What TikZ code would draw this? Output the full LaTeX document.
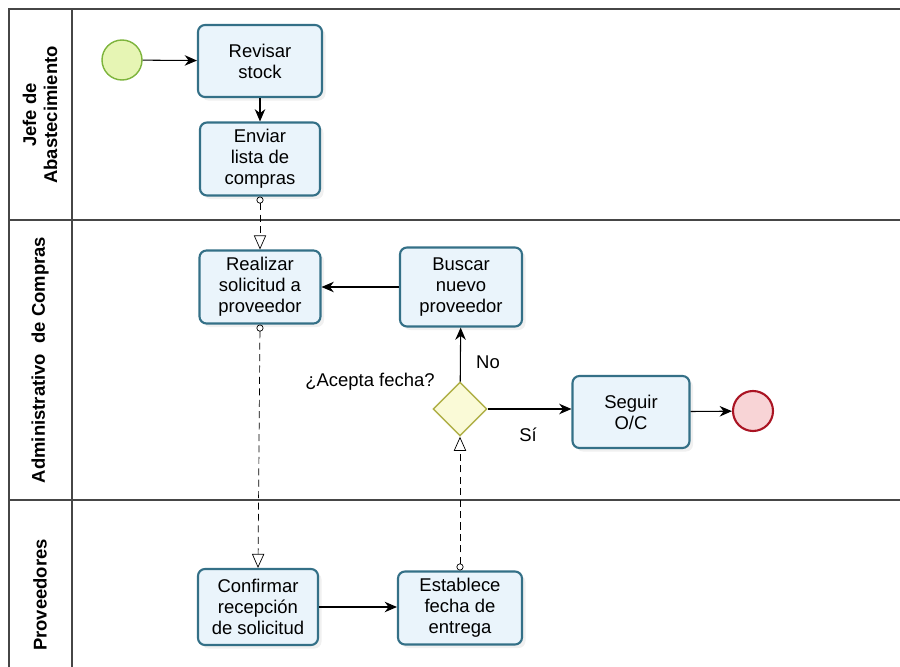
\documentclass[tikz,border=0pt]{standalone}
\usepackage{fontspec}
\setmainfont{Liberation Sans}
\usepackage{tikz}
\usetikzlibrary{arrows.meta}
\usetikzlibrary{shapes.geometric}
\usetikzlibrary{shadows}
\definecolor{taskline}{RGB}{52, 112, 135}
\definecolor{taskfill}{RGB}{234, 244, 251}
\definecolor{startline}{RGB}{125, 180, 60}
\definecolor{startfill}{RGB}{230, 245, 180}
\definecolor{endline}{RGB}{170, 20, 35}
\definecolor{endfill}{RGB}{248, 212, 214}
\definecolor{gateline}{RGB}{175, 175, 70}
\definecolor{gatefill}{RGB}{250, 250, 215}
\definecolor{laneline}{RGB}{70, 70, 70}

\tikzset{
    task/.style    = {draw=taskline, fill=taskfill, very thick, rounded corners=4pt, align=center,
                      inner sep=1pt, font=\fontsize{10.5}{12}\selectfont,
                      drop shadow={opacity=0.12, shadow xshift=2pt, shadow yshift=-2pt}},
    startev/.style = {circle, draw=startline, fill=startfill, thick, minimum size=0.8cm},
    endev/.style   = {circle, draw=endline, fill=endfill, very thick, minimum size=0.8cm},
    gateway/.style = {diamond, draw=gateline, fill=gatefill, thick, minimum width=1.08cm,
                      minimum height=1.08cm, inner sep=0pt},
    seqflow/.style = {-{Stealth[length=7pt, width=6pt]}, semithick},
    msgflow/.style = {dash pattern=on 4pt off 2.5pt, thin,
                      {Circle[open, length=4pt]}-{Triangle[open, length=8pt, width=7pt]}},
    lanelabel/.style = {rotate=90, font=\fontsize{10.5}{12}\selectfont\bfseries, align=center},
    flowlabel/.style = {font=\fontsize{10.5}{12}\selectfont}
}

\begin{document}
\begin{tikzpicture}
    \useasboundingbox (0,0) rectangle (18,-13.34);
    % lanes
    \draw[laneline, thick] (18,-0.18) -- (0.18,-0.18) -- (0.18,-13.34);
    \draw[laneline, thick] (1.44,-0.18) -- (1.44,-13.34);
    \draw[laneline, thick] (0.18,-4.40) -- (18,-4.40);
    \draw[laneline, thick] (0.18,-10.00) -- (18,-10.00);
    \node[lanelabel] (jefe)  at (0.80, -2.30) {Jefe de\\Abastecimiento};
    \node[lanelabel] (admin) at (0.80, -7.20) {Administrativo\ \ de Compras};
    \node[lanelabel] (prov)  at (0.80,-11.90) {Proveedores};

    % nodes
    \node[startev]                                         (inicio)    at ( 2.44, -1.20) {};
    \node[task, minimum width=2.48cm, minimum height=1.44cm] (revisar)   at ( 5.20, -1.22) {Revisar\\stock};
    \node[task, minimum width=2.40cm, minimum height=1.46cm] (enviar)    at ( 5.20, -3.18) {Enviar\\lista de\\compras};
    \node[task, minimum width=2.42cm, minimum height=1.46cm] (realizar)  at ( 5.20, -5.74) {Realizar\\solicitud a\\proveedor};
    \node[task, minimum width=2.44cm, minimum height=1.58cm] (buscar)    at ( 9.22, -5.74) {Buscar\\nuevo\\proveedor};
    \node[gateway]                                         (acepta)    at ( 9.20, -8.18) {};
    \node[task, minimum width=2.34cm, minimum height=1.44cm] (seguir)    at (12.62, -8.24) {Seguir\\O/C};
    \node[endev]                                           (fin)       at (15.06, -8.22) {};
    \node[task, minimum width=2.40cm, minimum height=1.52cm] (confirmar) at ( 5.16,-12.14) {Confirmar\\recepción\\de solicitud};
    \node[task, minimum width=2.48cm, minimum height=1.46cm] (establece) at ( 9.20,-12.16) {Establece\\fecha de\\entrega};

    % labels
    \node[flowlabel] (pregunta) at ( 7.40, -7.64) {¿Acepta fecha?};
    \node[flowlabel] (no)       at ( 9.76, -7.24) {No};
    \node[flowlabel] (si)       at (10.56, -8.70) {Sí};

    % sequence flows
    \draw[seqflow] (inicio)    -- (revisar);
    \draw[seqflow] (revisar)   -- (enviar);
    \draw[seqflow] (buscar)    -- (realizar);
    \draw[seqflow] (acepta)    -- (buscar);
    \draw[seqflow] (acepta)    -- (acepta -| seguir.west);
    \draw[seqflow] (seguir)    -- (fin);
    \draw[seqflow] (confirmar) -- (confirmar -| establece.west);

    % message flows
    \draw[msgflow] (enviar.south)    -- (realizar.north);
    \draw[msgflow] (realizar.south)  -- (confirmar.south |- confirmar.north);
    \draw[msgflow] (establece.north) -- (acepta.south);
\end{tikzpicture}
\end{document}
